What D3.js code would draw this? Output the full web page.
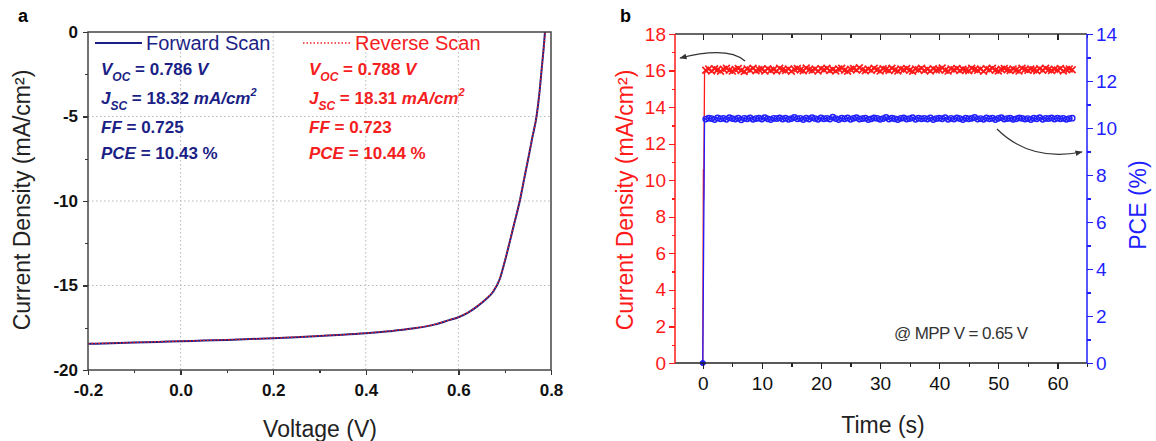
<!DOCTYPE html>
<meta charset="utf-8">
<style>
body { margin: 0; background: #fff; font-family: "Liberation Sans", Arial, sans-serif; }
svg { display: block; }
.tick line { shape-rendering: crispEdges; }
</style>
<body>
<script src="https://d3js.org/d3.v7.min.js"></script>
<script>

// ---- panel a : J-V curves ----
var fwdV = [-0.2,-0.15,-0.1,-0.05,0.0,0.05,0.1,0.15,0.2,0.25,0.3,0.35,0.4,0.45,0.5,0.55,0.58,0.6,0.62,0.64,0.66,0.675,0.69,0.70,0.711,0.72,0.733,0.742,0.751,0.76,0.769,0.775,0.78,0.784,0.787];
var fwdJ = [-18.45,-18.42,-18.38,-18.34,-18.30,-18.26,-18.22,-18.17,-18.12,-18.06,-17.99,-17.92,-17.83,-17.71,-17.55,-17.30,-17.05,-16.88,-16.62,-16.25,-15.80,-15.37,-14.57,-13.60,-12.41,-11.40,-9.94,-8.70,-7.47,-6.20,-4.95,-3.60,-2.15,-1.00,0.0];
var revV = [-0.2,-0.15,-0.1,-0.05,0.0,0.05,0.1,0.15,0.2,0.25,0.3,0.35,0.4,0.45,0.5,0.55,0.58,0.6,0.62,0.64,0.66,0.675,0.69,0.70,0.711,0.72,0.733,0.742,0.751,0.76,0.769,0.775,0.78,0.784,0.788];
var revJ = [-18.44,-18.41,-18.37,-18.33,-18.29,-18.25,-18.21,-18.17,-18.11,-18.05,-17.98,-17.91,-17.82,-17.70,-17.54,-17.29,-17.04,-16.87,-16.60,-16.23,-15.78,-15.34,-14.54,-13.57,-12.38,-11.37,-9.91,-8.67,-7.44,-6.17,-4.93,-3.60,-2.18,-1.05,0.0];

var xTicksA = [-0.2, 0.0, 0.2, 0.4, 0.6, 0.8];
var xTickLabelsA = ["-0.2", "0.0", "0.2", "0.4", "0.6", "0.8"];
var xMinorA = [-0.1, 0.1, 0.3, 0.5, 0.7];
var yTicksA = [0, -5, -10, -15, -20];
var yTickLabelsA = ["0", "-5", "-10", "-15", "-20"];
var yMinorA = [-2.5, -7.5, -12.5, -17.5];

// [symbol, subscript, value, unit, superscript]
var fwdStats = [["V", "OC", " = 0.786", " V", ""], ["J", "SC", " = 18.32", " mA/cm", "2"], ["FF", "", " = 0.725", "", ""], ["PCE", "", " = 10.43", " %", ""]];
var revStats = [["V", "OC", " = 0.788", " V", ""], ["J", "SC", " = 18.31", " mA/cm", "2"], ["FF", "", " = 0.723", "", ""], ["PCE", "", " = 10.44", " %", ""]];

// ---- panel b : MPP tracking ----
var time = [0.5,1,1.5,2,2.5,3,3.5,4,4.5,5,5.5,6,6.5,7,7.5,8,8.5,9,9.5,10,
  10.5,11,11.5,12,12.5,13,13.5,14,14.5,15,15.5,16,16.5,17,17.5,18,18.5,19,19.5,20,
  20.5,21,21.5,22,22.5,23,23.5,24,24.5,25,25.5,26,26.5,27,27.5,28,28.5,29,29.5,30,
  30.5,31,31.5,32,32.5,33,33.5,34,34.5,35,35.5,36,36.5,37,37.5,38,38.5,39,39.5,40,
  40.5,41,41.5,42,42.5,43,43.5,44,44.5,45,45.5,46,46.5,47,47.5,48,48.5,49,49.5,50,
  50.5,51,51.5,52,52.5,53,53.5,54,54.5,55,55.5,56,56.5,57,57.5,58,58.5,59,59.5,60,
  60.5,61,61.5,62,62.5];
var current = [16.02,16.08,15.98,16.10,16.04,15.96,16.07,16.12,16.01,15.97,
  16.06,16.11,16.00,15.95,16.09,16.03,16.13,15.99,16.05,16.08,
  15.97,16.10,16.02,16.06,15.98,16.12,16.04,16.00,16.09,15.96,
  16.07,16.11,16.03,15.99,16.14,16.05,16.01,16.08,15.97,16.10,
  16.04,16.12,16.00,16.06,15.98,16.09,16.13,16.02,15.96,16.07,
  16.11,16.03,16.15,16.05,15.99,16.08,16.01,16.12,16.04,15.97,
  16.10,16.06,16.00,16.13,16.03,15.98,16.09,16.05,16.11,16.01,
  15.96,16.08,16.04,16.12,16.00,16.07,15.98,16.10,16.03,16.06,
  16.14,16.02,15.97,16.09,16.05,16.11,16.00,16.07,16.03,15.99,
  16.12,16.06,16.01,16.08,15.96,16.10,16.04,16.13,16.02,15.98,
  16.07,16.11,16.05,16.00,16.09,16.03,15.97,16.12,16.06,16.01,
  16.08,16.04,15.99,16.10,16.02,16.13,16.05,16.00,16.07,16.03,
  16.11,15.98,16.06,16.09,16.04];
var pce = [10.38,10.42,10.40,10.36,10.43,10.39,10.41,10.37,10.44,10.40,
  10.38,10.42,10.35,10.41,10.39,10.43,10.37,10.40,10.42,10.38,
  10.44,10.39,10.36,10.41,10.40,10.43,10.38,10.42,10.37,10.40,
  10.45,10.39,10.41,10.36,10.42,10.38,10.44,10.40,10.37,10.43,
  10.39,10.41,10.38,10.46,10.40,10.36,10.42,10.39,10.43,10.37,
  10.41,10.44,10.38,10.40,10.42,10.36,10.39,10.43,10.41,10.37,
  10.40,10.45,10.38,10.42,10.39,10.36,10.41,10.43,10.38,10.40,
  10.44,10.37,10.42,10.39,10.41,10.38,10.43,10.36,10.40,10.42,
  10.39,10.44,10.37,10.41,10.38,10.43,10.40,10.36,10.42,10.39,
  10.41,10.45,10.38,10.40,10.37,10.43,10.39,10.42,10.36,10.41,
  10.44,10.38,10.40,10.42,10.37,10.39,10.43,10.41,10.38,10.40,
  10.36,10.42,10.39,10.44,10.37,10.41,10.40,10.43,10.38,10.42,
  10.39,10.41,10.37,10.40,10.42];
// start-up transient at t = 0
var startT = [0, 0.1, 0.15, 0.3];
var startCurrent = [0, 10.6, 8.9, 15.9];
var startPceT = [0, 0.3];
var startPce = [0, 10.4];

var xTicksB = [0, 10, 20, 30, 40, 50, 60];
var xMinorB = [5, 15, 25, 35, 45, 55, 65];
var yTicksL = [0, 2, 4, 6, 8, 10, 12, 14, 16, 18];
var yMinorL = [1, 3, 5, 7, 9, 11, 13, 15, 17];
var yTicksR = [0, 2, 4, 6, 8, 10, 12, 14];
var yMinorR = [1, 3, 5, 7, 9, 11, 13];

var navy = "#1b1f86", red = "#f5201e", bred = "#ff1a1a", blue = "#1f1fff";

var svg = d3.select("body").append("svg").attr("width", 1156).attr("height", 441);

// ================= panel a =================
var xA = d3.scaleLinear().domain([-0.2, 0.8]).range([88, 551]);
var yA = d3.scaleLinear().domain([-20, 0]).range([370, 32]);

var gA = svg.append("g");

// dotted grid
gA.append("g").selectAll("line").data(xTicksA.slice(1, -1)).enter().append("line")
  .attr("x1", d => xA(d)).attr("x2", d => xA(d)).attr("y1", yA(0)).attr("y2", yA(-20))
  .attr("stroke", "#b8b8b8").attr("stroke-dasharray", "1.5,2.5");
gA.append("g").selectAll("line").data(yTicksA.slice(1, -1)).enter().append("line")
  .attr("y1", d => yA(d)).attr("y2", d => yA(d)).attr("x1", xA(-0.2)).attr("x2", xA(0.8))
  .attr("stroke", "#b8b8b8").attr("stroke-dasharray", "1.5,2.5");

// curves
var lineA = d3.line().x(d => xA(d[0])).y(d => yA(d[1])).curve(d3.curveMonotoneX);
gA.append("path").datum(d3.zip(fwdV, fwdJ)).attr("d", lineA)
  .attr("fill", "none").attr("stroke", navy).attr("stroke-width", 2);
gA.append("path").datum(d3.zip(revV, revJ)).attr("d", lineA)
  .attr("fill", "none").attr("stroke", red).attr("stroke-width", 1.4).attr("stroke-dasharray", "1.5,2");

// axes
var axA = gA.append("g").attr("transform", "translate(0," + yA(-20) + ")")
  .call(d3.axisBottom(xA).tickValues(xTicksA).tickSize(5).tickFormat((d, i) => xTickLabelsA[i]));
gA.append("g").attr("transform", "translate(0," + yA(-20) + ")")
  .call(d3.axisBottom(xA).tickValues(xMinorA).tickSize(3).tickFormat(""));
var ayA = gA.append("g").attr("transform", "translate(" + xA(-0.2) + ",0)")
  .call(d3.axisLeft(yA).tickValues(yTicksA).tickSize(5).tickFormat((d, i) => yTickLabelsA[i]));
gA.append("g").attr("transform", "translate(" + xA(-0.2) + ",0)")
  .call(d3.axisLeft(yA).tickValues(yMinorA).tickSize(3).tickFormat(""));
gA.selectAll(".domain").remove();
gA.selectAll(".tick line").attr("stroke", "#333").attr("stroke-width", 1.3);
axA.selectAll("text").attr("font-family", "Liberation Sans, Arial").attr("font-size", 17)
  .attr("font-weight", "bold").attr("fill", "#111").attr("y", 11).attr("dy", "0.9em");
ayA.selectAll("text").attr("font-family", "Liberation Sans, Arial").attr("font-size", 17)
  .attr("font-weight", "bold").attr("fill", "#111").attr("x", -10);

gA.append("rect").attr("x", xA(-0.2)).attr("y", yA(0))
  .attr("width", xA(0.8) - xA(-0.2)).attr("height", yA(-20) - yA(0))
  .attr("fill", "none").attr("stroke", "#444").attr("stroke-width", 1.5);

// legend
gA.append("line").attr("x1", 95).attr("x2", 142).attr("y1", 43).attr("y2", 43)
  .attr("stroke", navy).attr("stroke-width", 2);
gA.append("text").attr("x", 146).attr("y", 50).attr("font-size", 20).attr("fill", navy).text("Forward Scan");
gA.append("line").attr("x1", 303).attr("x2", 350).attr("y1", 43).attr("y2", 43)
  .attr("stroke", red).attr("stroke-width", 1.5).attr("stroke-dasharray", "1.5,2");
gA.append("text").attr("x", 355).attr("y", 50).attr("font-size", 20).attr("fill", red).text("Reverse Scan");

function stats(list, x, color) {
  var ys = [75, 104, 133, 159];
  list.forEach(function(s, i) {
    var t = gA.append("text").attr("x", x).attr("y", ys[i]).attr("fill", color)
      .attr("font-size", 17).attr("font-weight", "bold").attr("font-style", "italic");
    t.append("tspan").text(s[0]);
    if (s[1]) t.append("tspan").attr("font-size", 12).attr("dy", 6).text(s[1]);
    t.append("tspan").attr("dy", s[1] ? -6 : 0).attr("font-style", "normal").text(s[2]);
    if (s[3]) t.append("tspan").attr("font-style", s[3] === " %" ? "normal" : "italic").text(s[3]);
    if (s[4]) t.append("tspan").attr("font-size", 11).attr("dy", -8).text(s[4]);
  });
}
stats(fwdStats, 101, navy);
stats(revStats, 309, red);

svg.append("text").attr("transform", "translate(30,200) rotate(-90)").attr("text-anchor", "middle")
  .attr("font-size", 23).attr("fill", "#222").text("Current Density (mA/cm²)");
svg.append("text").attr("x", 320).attr("y", 437).attr("text-anchor", "middle")
  .attr("font-size", 23).attr("fill", "#222").text("Voltage (V)");
svg.append("text").attr("x", 18).attr("y", 22).attr("font-size", 18).attr("font-weight", "bold").text("a");

// ================= panel b =================
var xB = d3.scaleLinear().domain([-4.7, 65]).range([675, 1087]);
var yL = d3.scaleLinear().domain([0, 18]).range([363, 34]);
var yR = d3.scaleLinear().domain([0, 14]).range([363, 34]);

var gB = svg.append("g");

var curPts = d3.zip(startT.concat(time), startCurrent.concat(current));
var pcePts = d3.zip(startPceT.concat(time), startPce.concat(pce));

gB.append("path").datum(curPts)
  .attr("d", d3.line().x(d => xB(d[0])).y(d => yL(d[1])))
  .attr("fill", "none").attr("stroke", bred).attr("stroke-width", 1.3);
gB.append("path").datum(pcePts)
  .attr("d", d3.line().x(d => xB(d[0])).y(d => yR(d[1])))
  .attr("fill", "none").attr("stroke", blue).attr("stroke-width", 1.3);

// markers
gB.append("g").selectAll("path").data(d3.zip(time, current)).enter().append("path")
  .attr("d", function(d) {
    var x = xB(d[0]), y = yL(d[1]), s = 3.4;
    return "M" + (x - s) + "," + (y - s) + "L" + (x + s) + "," + (y + s) +
      "M" + (x - s) + "," + (y + s) + "L" + (x + s) + "," + (y - s);
  })
  .attr("stroke", bred).attr("stroke-width", 1.7).attr("fill", "none");
gB.append("g").selectAll("circle").data(d3.zip(time, pce)).enter().append("circle")
  .attr("cx", d => xB(d[0])).attr("cy", d => yR(d[1])).attr("r", 2.7)
  .attr("fill", "none").attr("stroke", blue).attr("stroke-width", 1.4);
gB.append("circle").attr("cx", xB(0)).attr("cy", yR(0)).attr("r", 2.6)
  .attr("fill", blue).attr("stroke", blue);

// axes
var axB = gB.append("g").attr("transform", "translate(0," + yL(0) + ")")
  .call(d3.axisBottom(xB).tickValues(xTicksB).tickSize(6));
gB.append("g").attr("transform", "translate(0," + yL(0) + ")")
  .call(d3.axisBottom(xB).tickValues(xMinorB).tickSize(4).tickFormat(""));
gB.append("g").attr("transform", "translate(0," + yL(18) + ")")
  .call(d3.axisTop(xB).tickValues(xTicksB).tickSize(-6).tickFormat(""));
gB.append("g").attr("transform", "translate(0," + yL(18) + ")")
  .call(d3.axisTop(xB).tickValues(xMinorB).tickSize(-4).tickFormat(""));
gB.selectAll(".tick line").attr("stroke", "#222").attr("stroke-width", 1.3);
axB.selectAll("text").attr("font-family", "Liberation Sans, Arial").attr("font-size", 19)
  .attr("fill", "#111").attr("y", 10).attr("dy", "0.9em");

var sideColors = [bred, bred, blue, blue];
var ayL = gB.append("g").attr("transform", "translate(" + xB(-4.7) + ",0)")
  .call(d3.axisLeft(yL).tickValues(yTicksL).tickSize(6));
var ayL2 = gB.append("g").attr("transform", "translate(" + xB(-4.7) + ",0)")
  .call(d3.axisLeft(yL).tickValues(yMinorL).tickSize(3.5).tickFormat(""));
var ayR = gB.append("g").attr("transform", "translate(" + xB(65) + ",0)")
  .call(d3.axisRight(yR).tickValues(yTicksR).tickSize(6));
var ayR2 = gB.append("g").attr("transform", "translate(" + xB(65) + ",0)")
  .call(d3.axisRight(yR).tickValues(yMinorR).tickSize(3.5).tickFormat(""));

[ayL, ayL2, ayR, ayR2].forEach(function(a, i) {
  var c = sideColors[i];
  a.selectAll("text").attr("font-family", "Liberation Sans, Arial").attr("font-size", 19).attr("fill", c);
  a.selectAll(".tick line").attr("stroke", c).attr("stroke-width", 1.3);
});
ayL.selectAll("text").attr("x", -9);
ayR.selectAll("text").attr("x", 9);
gB.selectAll(".domain").remove();

// frame lines
gB.append("line").attr("x1", xB(-4.7)).attr("x2", xB(65)).attr("y1", yL(18)).attr("y2", yL(18))
  .attr("stroke", "#333").attr("stroke-width", 1.5);
gB.append("line").attr("x1", xB(-4.7)).attr("x2", xB(65)).attr("y1", yL(0)).attr("y2", yL(0))
  .attr("stroke", "#222").attr("stroke-width", 1.5);
gB.append("line").attr("x1", xB(-4.7)).attr("x2", xB(-4.7)).attr("y1", yL(18)).attr("y2", yL(0))
  .attr("stroke", bred).attr("stroke-width", 1.5);
gB.append("line").attr("x1", xB(65)).attr("x2", xB(65)).attr("y1", yL(18)).attr("y2", yL(0))
  .attr("stroke", blue).attr("stroke-width", 1.5);

// arrows
var defs = svg.append("defs");
defs.append("marker").attr("id", "ah").attr("viewBox", "0 0 10 10").attr("refX", 9).attr("refY", 5)
  .attr("markerWidth", 6).attr("markerHeight", 6).attr("orient", "auto")
  .append("path").attr("d", "M0,1L10,5L0,9Z").attr("fill", "#333");
gB.append("path").attr("d", "M745,61 Q728,46 680,58").attr("fill", "none")
  .attr("stroke", "#333").attr("stroke-width", 1.2).attr("marker-end", "url(#ah)");
gB.append("path").attr("d", "M997,129 Q1030,162 1082,152").attr("fill", "none")
  .attr("stroke", "#333").attr("stroke-width", 1.2).attr("marker-end", "url(#ah)");

gB.append("text").attr("x", 894).attr("y", 339).attr("font-size", 17).attr("fill", "#333")
  .attr("letter-spacing", -0.6).text("@ MPP V = 0.65 V");

svg.append("text").attr("transform", "translate(633,200) rotate(-90)").attr("text-anchor", "middle")
  .attr("font-size", 23).attr("fill", bred).text("Current Density (mA/cm²)");
svg.append("text").attr("transform", "translate(1146,205) rotate(-90)").attr("text-anchor", "middle")
  .attr("font-size", 23).attr("fill", blue).text("PCE (%)");
svg.append("text").attr("x", 883).attr("y", 433).attr("text-anchor", "middle")
  .attr("font-size", 23).attr("fill", "#222").text("Time (s)");
svg.append("text").attr("x", 620).attr("y", 22).attr("font-size", 18).attr("font-weight", "bold").text("b");
</script>
</body>
